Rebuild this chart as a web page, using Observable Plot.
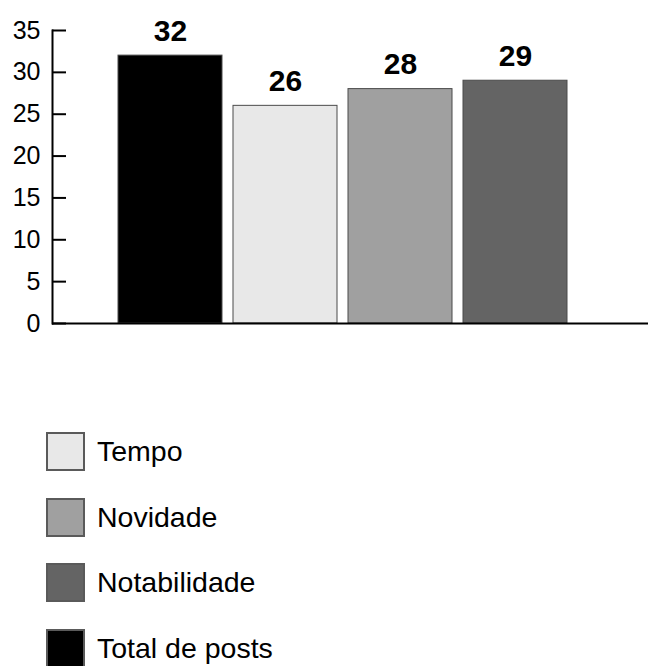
<!DOCTYPE html>
<html><head><meta charset="utf-8">
<script src="https://cdn.jsdelivr.net/npm/d3@7"></script>
<script src="https://cdn.jsdelivr.net/npm/@observablehq/plot@0.6"></script>
<style>
body{margin:0;background:#fff;font-family:"Liberation Sans",Arial,sans-serif;}
#legend{margin-top:92px;padding-left:46px;}
.row{display:flex;align-items:center;height:39px;margin-bottom:26.5px;font-size:28.5px;color:#000;}
.sw{width:39px;height:39px;box-sizing:border-box;border:2px solid #5a5a5a;margin-right:12px;}
</style></head><body><div id="chart"></div><div id="legend"></div>
<script>
const categories = ["Total de posts", "Tempo", "Novidade", "Notabilidade"];
const values = [32, 26, 28, 29];
const colors = ["#000000", "#e8e8e8", "#a0a0a0", "#646464"];
const legendOrder = ["Tempo", "Novidade", "Notabilidade", "Total de posts"];
const yTicks = [0, 5, 10, 15, 20, 25, 30, 35];

const data = categories.map((c, i) => ({category: c, value: values[i]}));

const chart = Plot.plot({
  width: 648, height: 340,
  marginLeft: 52, marginRight: 0, marginTop: 30, marginBottom: 17,
  style: {fontFamily: "Liberation Sans, Arial, sans-serif", background: "white", color: "black"},
  x: {domain: categories, range: [117, 568], paddingInner: 0.1, paddingOuter: 0, axis: null},
  y: {domain: [0, 35], axis: null},
  color: {domain: categories, range: colors},
  marks: [
    Plot.barY(data, {x: "category", y: "value", fill: "category", stroke: "#4a4a4a", strokeWidth: 1}),
    Plot.text(data, {x: "category", y: "value", text: d => String(d.value), dy: -15, lineAnchor: "bottom", fontSize: 30, fontWeight: "bold", fill: "black"}),
    Plot.axisY(yTicks, {tickSize: 0, tickPadding: 12, fontSize: 25, fill: "black", label: null}),
    Plot.axisY(yTicks, {tickSize: -14, tickFormat: () => "", stroke: "black", strokeWidth: 2, label: null}),
    Plot.frame({anchor: "left", stroke: "black", strokeWidth: 2}),
    Plot.ruleY([0], {stroke: "black", strokeWidth: 2})
  ]
});
document.getElementById("chart").appendChild(chart);

const legend = document.getElementById("legend");
legendOrder.forEach(name => {
  const row = document.createElement("div");
  row.className = "row";
  const sw = document.createElement("div");
  sw.className = "sw";
  sw.style.background = colors[categories.indexOf(name)];
  const label = document.createElement("span");
  label.textContent = name;
  row.appendChild(sw);
  row.appendChild(label);
  legend.appendChild(row);
});
</script>
</body></html>
